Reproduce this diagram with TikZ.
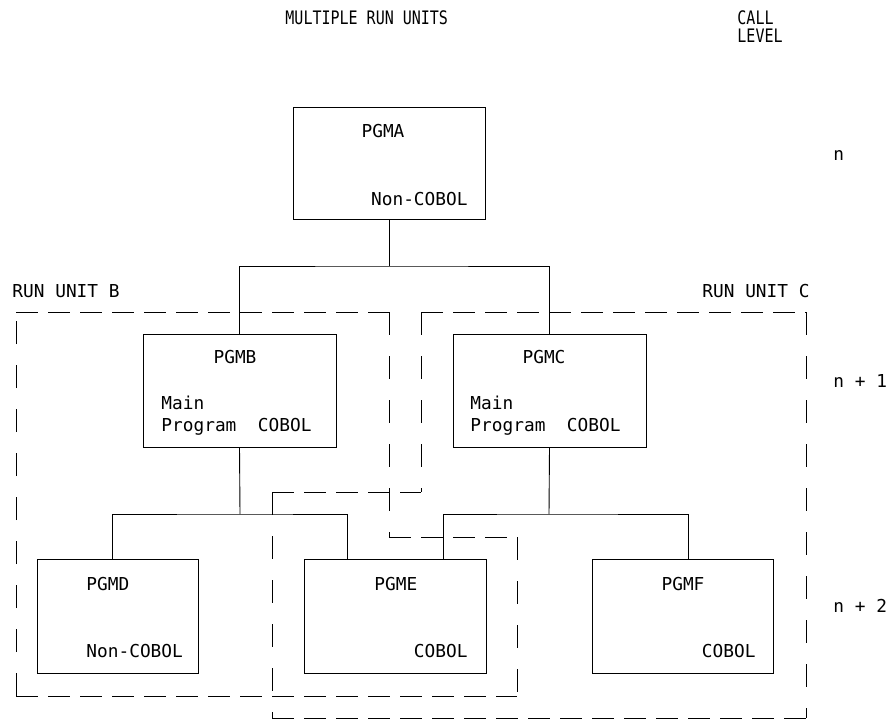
\documentclass[tikz,border=0pt]{standalone}
\usepackage{fontspec}
\usepackage{graphicx}
\newfontfamily\codefont{DejaVu Sans Mono}
\newcommand{\hdrtext}[1]{\scalebox{1}[1.24]{#1}}
\begin{document}
\begin{tikzpicture}[x=1pt,y=-1pt,
  line width=0.9pt,
  prog/.style={draw, rectangle, inner sep=0pt, outer sep=0pt, anchor=north west},
  txt/.style={inner sep=0pt, font=\codefont\fontsize{17.8pt}{21pt}\selectfont},
  hdr/.style={inner sep=0pt, font=\codefont\fontsize{15pt}{18pt}\selectfont, anchor=base west},
  hdash/.style={dash pattern=on 22pt off 10pt},
  vdash/.style={dash pattern=on 23pt off 21pt},
  link/.style={line width=0.9pt}]
\useasboundingbox (0,0) rectangle (888,720);

% headings
\node[hdr] (title) at (285,24) {\hdrtext{MULTIPLE RUN UNITS}};
\node[hdr] (call) at (737,24) {\hdrtext{CALL}};
\node[hdr] (level) at (737,42) {\hdrtext{LEVEL}};

% call levels
\node[txt, anchor=base west] (lvn) at (833,160) {n};
\node[txt, anchor=base west] (lvn1) at (833,387) {n + 1};
\node[txt, anchor=base west] (lvn2) at (833,612) {n + 2};

% run unit captions
\node[txt, anchor=base west] (rub) at (12,297) {RUN UNIT B};
\node[txt, anchor=base east] (ruc) at (810,297) {RUN UNIT C};

% program boxes
\node[prog, minimum width=192pt, minimum height=112pt] (pgma) at (293,107) {};
\node[prog, minimum width=193pt, minimum height=113pt] (pgmb) at (143,334) {};
\node[prog, minimum width=193pt, minimum height=113pt] (pgmc) at (453,334) {};
\node[prog, minimum width=161pt, minimum height=114pt] (pgmd) at (37,559) {};
\node[prog, minimum width=182pt, minimum height=114pt] (pgme) at (304,559) {};
\node[prog, minimum width=181pt, minimum height=114pt] (pgmf) at (592,559) {};

% box texts
\node[txt, anchor=base] (ta1) at (383,137) {PGMA};
\node[txt, anchor=base east] (ta2) at (468,205) {Non-COBOL};

\node[txt, anchor=base] (tb1) at (235,363) {PGMB};
\node[txt, anchor=base west] (tb2) at (161,409) {Main};
\node[txt, anchor=base west] (tb3) at (161,431) {Program\ \ COBOL};

\node[txt, anchor=base] (tc1) at (544,363) {PGMC};
\node[txt, anchor=base west] (tc2) at (470,409) {Main};
\node[txt, anchor=base west] (tc3) at (470,431) {Program\ \ COBOL};

\node[txt, anchor=base west] (td1) at (86,590) {PGMD};
\node[txt, anchor=base west] (td2) at (86,657) {Non-COBOL};

\node[txt, anchor=base west] (te1) at (374,590) {PGME};
\node[txt, anchor=base east] (te2) at (468,657) {COBOL};

\node[txt, anchor=base] (tf1) at (683,590) {PGMF};
\node[txt, anchor=base east] (tf2) at (756,657) {COBOL};

% call tree
\coordinate (barA) at (389,266);
\coordinate (barB) at (240,514);
\coordinate (barC) at (549,514);
\coordinate (dIn) at (112,559);
\coordinate (eInB) at (347,559);
\coordinate (eInC) at (443,559);
\coordinate (fIn) at (688,559);

\draw[link] (pgma.south) -- (barA);
\draw[link] (pgmb.north) |- (barA) -| (pgmc.north);
\draw[link] (pgmb.south) -- (barB);
\draw[link] (dIn) |- (barB) -| (eInB);
\draw[link] (pgmc.south) -- (barC);
\draw[link] (eInC) |- (barC) -| (fIn);

% run unit B outline
\coordinate (b1) at (16,312);
\coordinate (b2) at (389,312);
\coordinate (b3) at (389,537);
\coordinate (b4) at (517,537);
\coordinate (b5) at (517,696);
\coordinate (b6) at (16,696);
\draw[hdash] (b1) -- (b2);
\draw[vdash] (b2) -- (b3);
\draw[hdash] (b3) -- (b4);
\draw[vdash] (b4) -- (b5);
\draw[hdash] (b6) -- (b5);
\draw[vdash] (b6) -- (b1);

% run unit C outline
\coordinate (c1) at (421,312);
\coordinate (c2) at (806,312);
\coordinate (c3) at (806,718);
\coordinate (c4) at (272,718);
\coordinate (c5) at (272,492);
\coordinate (c6) at (421,492);
\draw[hdash] (c1) -- (c2);
\draw[vdash] (c2) -- (c3);
\draw[hdash] (c4) -- (c3);
\draw[vdash] (c5) -- (c4);
\draw[hdash] (c5) -- (c6);
\draw[vdash] (c1) -- (c6);
\end{tikzpicture}
\end{document}
